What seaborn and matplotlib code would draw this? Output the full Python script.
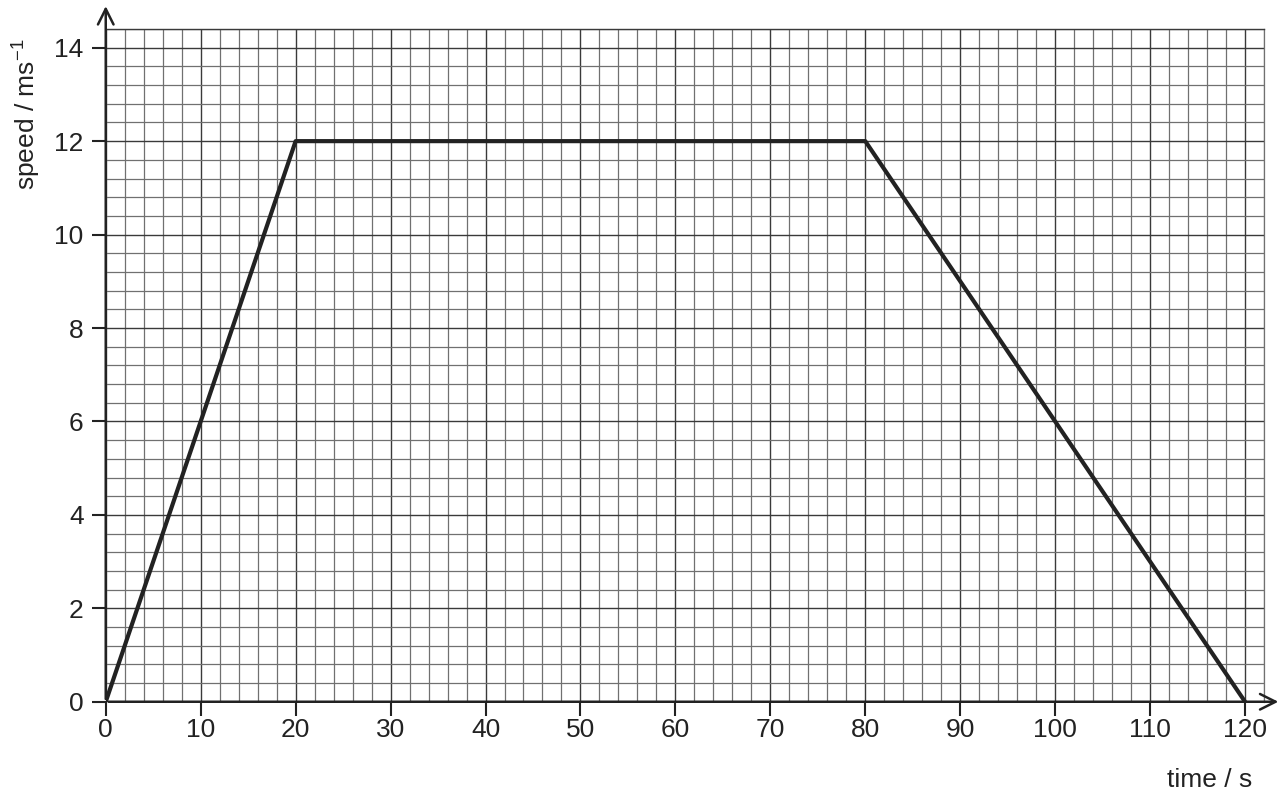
import numpy as np
import pandas as pd
import matplotlib.pyplot as plt
import seaborn as sns

time_s = [0, 20, 80, 120]
speed = [0, 12, 12, 0]
x_ticks = [0, 10, 20, 30, 40, 50, 60, 70, 80, 90, 100, 110, 120]
y_ticks = [0, 2, 4, 6, 8, 10, 12, 14]

df = pd.DataFrame({"time": time_s, "speed": speed})

sns.set_style("white")
plt.rcParams['font.family'] = ['Liberation Sans', 'DejaVu Sans']
plt.rcParams['mathtext.fontset'] = 'custom'
plt.rcParams['mathtext.rm'] = 'Liberation Sans'
plt.rcParams['mathtext.it'] = 'Liberation Sans'

fig = plt.figure(figsize=(12.88, 7.95), dpi=100)
ax = fig.add_axes([0.0821, 0.1173, 0.8993, 0.8462])

ax.set_xlim(0, 122)
ax.set_ylim(0, 14.4)

# graph paper grid
ax.set_xticks(np.arange(0, 122.1, 2), minor=True)
ax.set_yticks(np.arange(0, 14.41, 0.4), minor=True)
ax.grid(which="minor", color="#707070", linewidth=0.9)
ax.set_xticks(x_ticks)
ax.set_yticks(y_ticks)
ax.grid(which="major", color="#3a3a3a", linewidth=1.0)
ax.set_axisbelow(True)

sns.lineplot(data=df, x="time", y="speed", color="#222222", linewidth=3, ax=ax)

for s in ax.spines.values():
    s.set_visible(False)
ax.spines["top"].set_visible(True)
ax.spines["right"].set_visible(True)
ax.spines["top"].set_color("#3a3a3a")
ax.spines["right"].set_color("#707070")
ax.spines["top"].set_linewidth(1.0)
ax.spines["right"].set_linewidth(0.9)

# axes with arrow heads
ax.annotate("", xy=(123.8, 0), xytext=(0, 0), annotation_clip=False,
            arrowprops=dict(arrowstyle="->", color="#222222", lw=1.8, mutation_scale=28))
ax.annotate("", xy=(0, 14.95), xytext=(0, 0), annotation_clip=False,
            arrowprops=dict(arrowstyle="->", color="#222222", lw=1.8, mutation_scale=28))

ax.tick_params(axis="both", which="major", bottom=True, left=True, length=10, width=1.5,
               color="#222222", labelsize=19, labelcolor="#222222", direction="out")
ax.tick_params(axis="x", which="major", pad=2)
ax.tick_params(axis="y", which="major", pad=6)
ax.tick_params(axis="both", which="minor", length=0)
ax.set_xticklabels([str(v) for v in x_ticks])
ax.set_yticklabels([str(v) for v in y_ticks])

ax.set_xlabel("")
ax.set_ylabel("")
fig.text(0.9394, 0.010, "time / s", ha="center", va="baseline", fontsize=19, color="#222222")
fig.text(0.008, 0.952, "speed / ms$^{-1}$", rotation=90, ha="left", va="top",
         fontsize=19, color="#222222")

fig.savefig("out.png", dpi=100)
